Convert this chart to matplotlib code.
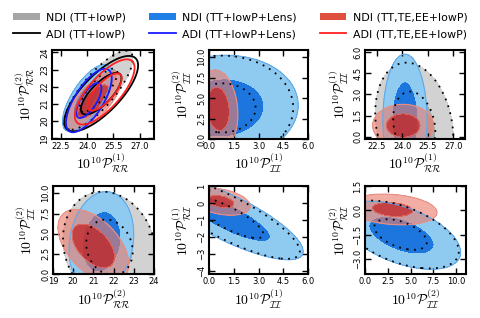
import numpy as np
import matplotlib
matplotlib.use("Agg")
import matplotlib.pyplot as plt
from matplotlib.patches import Patch
from matplotlib.lines import Line2D

plt.rcParams["mathtext.fontset"] = "cm"
plt.rcParams["font.family"] = ["DejaVu Sans"]

# ---------------- data ----------------
x_labels = [r"$10^{10}\mathcal{P}^{(1)}_{\mathcal{R}\mathcal{R}}$",
            r"$10^{10}\mathcal{P}^{(1)}_{\mathcal{I}\mathcal{I}}$",
            r"$10^{10}\mathcal{P}^{(1)}_{\mathcal{R}\mathcal{R}}$",
            r"$10^{10}\mathcal{P}^{(2)}_{\mathcal{R}\mathcal{R}}$",
            r"$10^{10}\mathcal{P}^{(1)}_{\mathcal{I}\mathcal{I}}$",
            r"$10^{10}\mathcal{P}^{(2)}_{\mathcal{I}\mathcal{I}}$"]
y_labels = [r"$10^{10}\mathcal{P}^{(2)}_{\mathcal{R}\mathcal{R}}$",
            r"$10^{10}\mathcal{P}^{(2)}_{\mathcal{I}\mathcal{I}}$",
            r"$10^{10}\mathcal{P}^{(1)}_{\mathcal{I}\mathcal{I}}$",
            r"$10^{10}\mathcal{P}^{(2)}_{\mathcal{I}\mathcal{I}}$",
            r"$10^{10}\mathcal{P}^{(1)}_{\mathcal{R}\mathcal{I}}$",
            r"$10^{10}\mathcal{P}^{(2)}_{\mathcal{R}\mathcal{I}}$"]
x_lims = [(22.0, 27.8), (0.0, 6.0), (21.8, 27.7), (19.0, 24.0), (0.0, 6.0), (0.0, 11.1)]
y_lims = [(18.96, 24.15), (0.0, 10.9), (-0.15, 6.15), (0.0, 10.9), (-4.2, 1.0), (-3.95, 1.4)]
x_ticks = [[22.5, 24.0, 25.5, 27.0], [0.0, 1.5, 3.0, 4.5, 6.0], [22.5, 24.0, 25.5, 27.0],
           [19, 20, 21, 22, 23, 24], [0.0, 1.5, 3.0, 4.5, 6.0], [0.0, 2.5, 5.0, 7.5, 10.0]]
y_ticks = [[19, 20, 21, 22, 23, 24], [0.0, 2.5, 5.0, 7.5, 10.0], [0.0, 1.5, 3.0, 4.5, 6.0],
           [0.0, 2.5, 5.0, 7.5, 10.0], [-4, -3, -2, -1, 0, 1], [-3.0, -1.5, 0.0, 1.5]]

# Gaussian-like contour summaries per panel: centre, 95% half-extents, correlation, 68%/95% size ratio
ndi_tt_cx = [24.65, 0.8, 24.7, 21.8, 1.1, 3.9]
ndi_tt_cy = [21.8, 3.8, 0.8, 3.3, -0.85, -1.5]
ndi_tt_sx = [1.95, 4.3, 2.3, 2.3, 4.4, 6.4]
ndi_tt_sy = [2.3, 6.4, 4.45, 6.9, 2.45, 2.1]
ndi_tt_rho = [0.8, 0.0, -0.2, -0.15, -0.82, -0.5]
ndi_tt_f = [0.55, 0.47, 0.54, 0.5, 0.5, 0.45]

ndi_lens_cx = [24.0, 0.8, 24.15, 21.4, 1.2, 4.0]
ndi_lens_cy = [21.35, 3.8, 1.2, 4.0, -0.9, -1.55]
ndi_lens_sx = [1.4, 4.6, 1.3, 1.6, 4.5, 6.5]
ndi_lens_sy = [1.95, 6.45, 4.65, 6.2, 2.45, 2.1]
ndi_lens_rho = [0.7, 0.05, 0.0, 0.15, -0.8, -0.5]
ndi_lens_f = [0.55, 0.55, 0.58, 0.6, 0.56, 0.55]

ndi_pol_cx = [24.35, 0.55, 24.05, 21.0, 0.7, 3.0]
ndi_pol_cy = [21.15, 3.7, 0.8, 3.5, 0.08, 0.05]
ndi_pol_sx = [1.6, 1.2, 1.8, 1.75, 1.8, 4.9]
ndi_pol_sy = [1.75, 4.75, 1.5, 4.5, 0.8, 0.95]
ndi_pol_rho = [0.72, -0.15, 0.0, -0.5, -0.35, -0.2]
ndi_pol_f = [0.55, 0.56, 0.55, 0.6, 0.45, 0.45]

# ADI contours (first panel only): black, blue, red
adi_cx = [24.8, 24.1, 25.0]
adi_cy = [21.6, 21.2, 21.7]
adi_sx = [2.1, 1.3, 1.7]
adi_sy = [2.2, 1.85, 1.9]
adi_rho = [0.75, 0.7, 0.74]
adi_f = [0.55, 0.55, 0.57]

legend_labels = ["NDI (TT+lowP)", "ADI (TT+lowP)", "NDI (TT+lowP+Lens)",
                 "ADI (TT+lowP+Lens)", "NDI (TT,TE,EE+lowP)", "ADI (TT,TE,EE+lowP)"]

# ---------------- style ----------------
grey_l, grey_d = "#d2d2d2", "#a8a8a8"
blue_l, blue_d, blue_e = "#8fcaf0", "#1c76de", "#62a9ea"
red_l = (235 / 255, 125 / 255, 110 / 255, 0.62)
red_d = (200 / 255, 52 / 255, 52 / 255, 0.92)
red_e = "#e88f84"
adi_colors = ["black", "#1a1aff", "#ff2020"]

positions = [[0.108, 0.563, 0.212, 0.280], [0.4345, 0.563, 0.206, 0.280], [0.759, 0.563, 0.208, 0.280],
             [0.110, 0.138, 0.210, 0.277], [0.4345, 0.138, 0.206, 0.277], [0.759, 0.138, 0.210, 0.277]]

fig = plt.figure(figsize=(4.81, 3.18), dpi=100)


def field(X, Y, cx, cy, sx, sy, rho):
    u = (X - cx) / sx
    v = (Y - cy) / sy
    return (u * u - 2 * rho * u * v + v * v) / (1 - rho * rho)


for i in range(6):
    ax = fig.add_axes(positions[i])
    x0, x1 = x_lims[i]
    y0, y1 = y_lims[i]
    dx, dy = x1 - x0, y1 - y0
    xs = np.linspace(x0 - dx, x1 + dx, 500)
    ys = np.linspace(y0 - dy, y1 + dy, 500)
    X, Y = np.meshgrid(xs, ys)

    Zg = field(X, Y, ndi_tt_cx[i], ndi_tt_cy[i], ndi_tt_sx[i], ndi_tt_sy[i], ndi_tt_rho[i])
    fg = ndi_tt_f[i] ** 2
    ax.contourf(X, Y, Zg, levels=[0, fg, 1], colors=[grey_d, grey_l])

    Zb = field(X, Y, ndi_lens_cx[i], ndi_lens_cy[i], ndi_lens_sx[i], ndi_lens_sy[i], ndi_lens_rho[i])
    fb = ndi_lens_f[i] ** 2
    ax.contourf(X, Y, Zb, levels=[0, fb, 1], colors=[blue_d, blue_l])
    ax.contour(X, Y, Zb, levels=[1], colors=[blue_e], linewidths=0.8)

    Zr = field(X, Y, ndi_pol_cx[i], ndi_pol_cy[i], ndi_pol_sx[i], ndi_pol_sy[i], ndi_pol_rho[i])
    fr = ndi_pol_f[i] ** 2
    ax.contourf(X, Y, Zr, levels=[0, fr, 1], colors=[red_d, red_l])
    ax.contour(X, Y, Zr, levels=[1], colors=[red_e], linewidths=0.8)

    ax.contour(X, Y, Zg, levels=[fg, 1], colors="black", linewidths=1.3,
               linestyles=[(0, (1, 3))])

    if i == 0:
        for k in range(3):
            Za = field(X, Y, adi_cx[k], adi_cy[k], adi_sx[k], adi_sy[k], adi_rho[k])
            ax.contour(X, Y, Za, levels=[adi_f[k] ** 2, 1], colors=adi_colors[k], linewidths=1.3)

    ax.set_xlim(x0, x1)
    ax.set_ylim(y0, y1)
    ax.set_xticks(x_ticks[i])
    ax.set_yticks(y_ticks[i])
    ax.tick_params(direction="in", top=True, right=True, length=4, width=1,
                   labelsize=6, pad=2)
    ax.tick_params(axis="y", labelrotation=90)
    for lbl in ax.get_yticklabels():
        lbl.set_va("center")
    for s in ax.spines.values():
        s.set_linewidth(1.5)
    ax.set_xlabel(x_labels[i], fontsize=10, labelpad=1)
    ax.set_ylabel(y_labels[i], fontsize=10, labelpad=2)

handles = [Patch(facecolor="#a6a6a6", edgecolor="none"),
           Line2D([], [], color="black", lw=1.3),
           Patch(facecolor="#1f7fe6", edgecolor="none"),
           Line2D([], [], color="#1a1aff", lw=1.3),
           Patch(facecolor="#e0503f", edgecolor="none"),
           Line2D([], [], color="#ff2020", lw=1.3)]
fig.legend(handles, legend_labels, ncol=3, loc="upper center", bbox_to_anchor=(0.5, 0.985),
           frameon=False, fontsize=7.9, handlelength=2.4, handletextpad=0.6,
           columnspacing=2.1, labelspacing=0.6, borderaxespad=0.3)

fig.savefig("out.png", dpi=100)
